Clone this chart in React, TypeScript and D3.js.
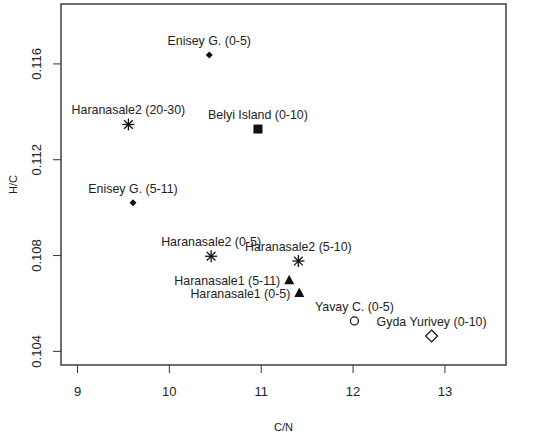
import React, { useEffect, useRef } from "react";
import * as d3 from "d3";

// sample sites and their ratios
const sites = [
  "Enisey G. (0-5)",
  "Haranasale2 (20-30)",
  "Belyi Island (0-10)",
  "Enisey G. (5-11)",
  "Haranasale2 (0-5)",
  "Haranasale2 (5-10)",
  "Haranasale1 (5-11)",
  "Haranasale1 (0-5)",
  "Yavay C. (0-5)",
  "Gyda Yurivey (0-10)",
];
const cn = [10.44, 9.56, 10.97, 9.61, 10.46, 11.41, 11.31, 11.42, 12.02, 12.86];
const hc = [0.11635, 0.11345, 0.11326, 0.11018, 0.10795, 0.10775, 0.10695, 0.10642, 0.10525, 0.10462];
const marks = ["dmd", "star", "sq", "dmd", "star", "star", "tri", "tri", "circ", "odmd"];
const labelSide = ["top", "top", "top", "top", "top", "top", "left", "left", "top", "top"];

const xTicks = [9, 10, 11, 12, 13];
const yTicks = [0.104, 0.108, 0.112, 0.116];

const W = 554;
const H = 437;
const box = { left: 61, right: 506, top: 4, bottom: 365 };
const font = "'Liberation Sans', Arial, sans-serif";

const Marker = ({ type, x, y }: { type: string; x: number; y: number }) => {
  if (type === "star") {
    const r = 6;
    const d = r * 0.72;
    return (
      <g stroke="#111" strokeWidth={1.3}>
        <line x1={x - r} y1={y} x2={x + r} y2={y} />
        <line x1={x} y1={y - r} x2={x} y2={y + r} />
        <line x1={x - d} y1={y - d} x2={x + d} y2={y + d} />
        <line x1={x - d} y1={y + d} x2={x + d} y2={y - d} />
      </g>
    );
  }
  if (type === "sq") {
    return <rect x={x - 4.5} y={y - 4.5} width={9} height={9} fill="#111" />;
  }
  if (type === "tri") {
    return <path d={`M${x},${y - 5.5}L${x + 5},${y + 4}L${x - 5},${y + 4}Z`} fill="#111" />;
  }
  if (type === "circ") {
    return <circle cx={x} cy={y} r={4} fill="none" stroke="#111" strokeWidth={1.2} />;
  }
  if (type === "odmd") {
    return (
      <path
        d={`M${x},${y - 6}L${x + 6},${y}L${x},${y + 6}L${x - 6},${y}Z`}
        fill="none"
        stroke="#111"
        strokeWidth={1.2}
      />
    );
  }
  return <path d={`M${x},${y - 3.5}L${x + 3.5},${y}L${x},${y + 3.5}L${x - 3.5},${y}Z`} fill="#111" />;
};

export default function App() {
  const xAxisRef = useRef<SVGGElement>(null);
  const yAxisRef = useRef<SVGGElement>(null);

  const x = d3.scaleLinear().domain([8.826, 13.67]).range([box.left, box.right]);
  const y = d3.scaleLinear().domain([0.10341, 0.11848]).range([box.bottom, box.top]);

  useEffect(() => {
    const gx = d3.select(xAxisRef.current);
    gx.call(d3.axisBottom(x).tickValues(xTicks).tickSize(8).tickPadding(14).tickFormat(d3.format("d")));
    gx.select(".domain").remove();
    gx.selectAll("text").attr("font-size", 13).attr("font-family", font).attr("fill", "#222");
    gx.selectAll("line").attr("stroke", "#333");

    const gy = d3.select(yAxisRef.current);
    gy.call(d3.axisLeft(y).tickValues(yTicks).tickSize(8).tickFormat(d3.format(".3f")));
    gy.select(".domain").remove();
    gy.selectAll("line").attr("stroke", "#333");
    gy.selectAll("text")
      .attr("font-size", 13)
      .attr("font-family", font)
      .attr("fill", "#222")
      .attr("x", null)
      .attr("text-anchor", "middle")
      .attr("transform", "translate(-25,0) rotate(-90)")
      .attr("dy", "0.35em");
  }, []);

  return (
    <svg
      width={W}
      height={H}
      style={{ position: "absolute", left: 0, top: 0, background: "#fff" }}
    >
      <rect x={0} y={0} width={W} height={H} fill="#fff" />
      <g ref={xAxisRef} transform={`translate(0,${box.bottom})`} />
      <g ref={yAxisRef} transform={`translate(${box.left},0)`} />
      <rect
        x={box.left}
        y={box.top}
        width={box.right - box.left}
        height={box.bottom - box.top}
        fill="none"
        stroke="#333"
        strokeWidth={1.4}
      />
      {sites.map((s, i) => {
        const px = x(cn[i]);
        const py = y(hc[i]);
        return (
          <g key={s}>
            <Marker type={marks[i]} x={px} y={py} />
            {labelSide[i] === "left" ? (
              <text
                x={px - 9}
                y={py}
                dy="0.4em"
                textAnchor="end"
                fontSize={12.4}
                fontFamily={font}
                fill="#222"
              >
                {s}
              </text>
            ) : (
              <text
                x={px}
                y={py - 10}
                textAnchor="middle"
                fontSize={12.4}
                fontFamily={font}
                fill="#222"
              >
                {s}
              </text>
            )}
          </g>
        );
      })}
      <text
        x={(box.left + box.right) / 2}
        y={431}
        textAnchor="middle"
        fontSize={11}
        fontFamily={font}
        fill="#222"
      >
        C/N
      </text>
      <text
        transform={`translate(13,${(box.top + box.bottom) / 2}) rotate(-90)`}
        dy="0.35em"
        textAnchor="middle"
        fontSize={11}
        fontFamily={font}
        fill="#222"
      >
        H/C
      </text>
    </svg>
  );
}
